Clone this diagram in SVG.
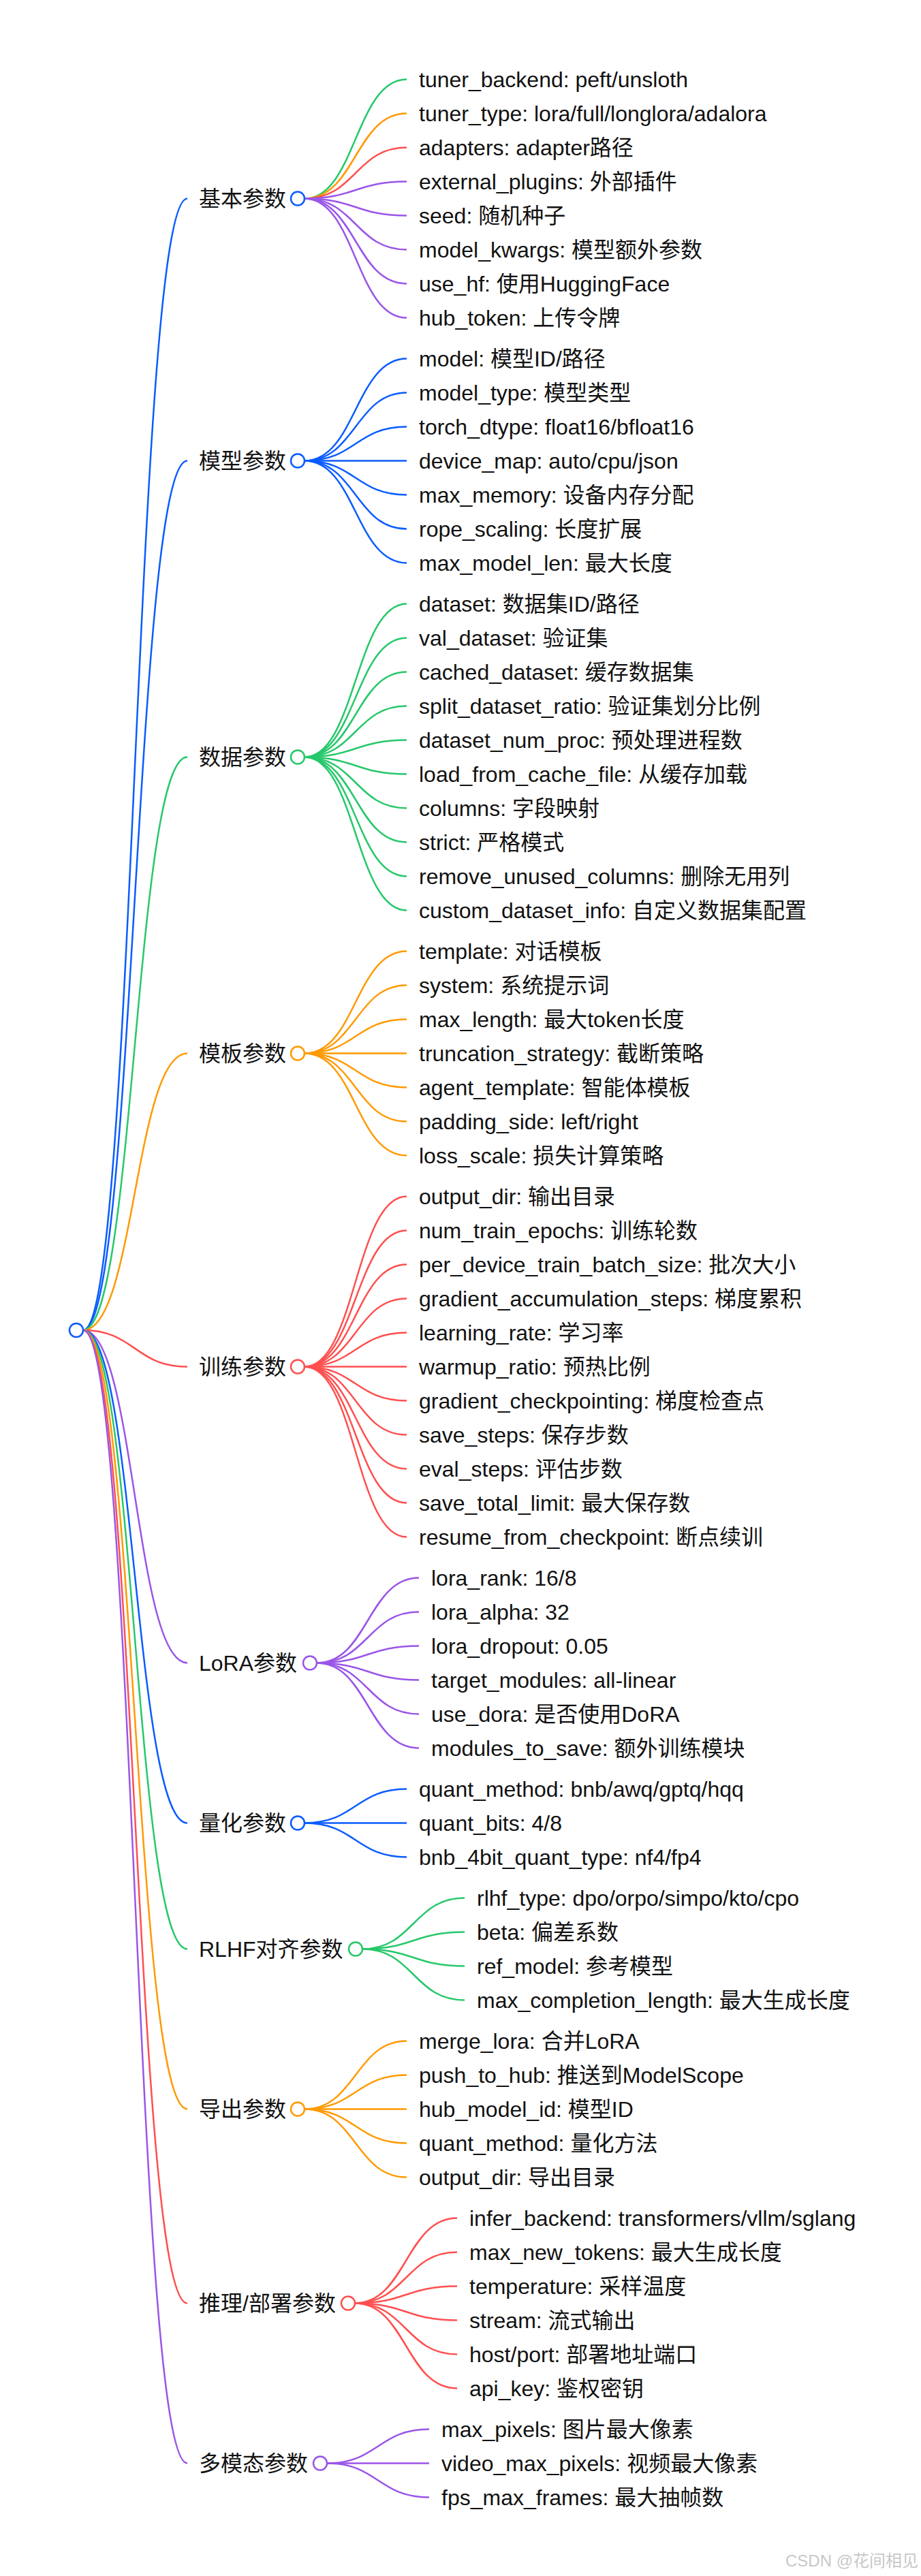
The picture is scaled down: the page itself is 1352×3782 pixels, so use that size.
<svg xmlns="http://www.w3.org/2000/svg" width="1352" height="3782" viewBox="0 0 1352 3782">
<style>
text{font-family:"Liberation Sans","Noto Sans CJK SC",sans-serif;font-size:32px;fill:#111}
path{fill:none;stroke-width:2.5}
circle{fill:#fff;stroke-width:2.5}
.b{stroke:#0a5cff}.g{stroke:#26c86a}.o{stroke:#ff9a00}.r{stroke:#ff4f4f}.p{stroke:#9a55e8}
.wm{font-size:24px;fill:#c8c8c8}
</style>
<rect width="1352" height="3782" fill="#fff"/>
<g id="connectors">
<path class="b" d="M122,1953 C198,1953 198,291.5 275,291.5"/>
<path class="b" d="M122,1953 C198,1953 198,676.5 275,676.5"/>
<path class="g" d="M122,1953 C198,1953 198,1111.5 275,1111.5"/>
<path class="o" d="M122,1953 C198,1953 198,1546.5 275,1546.5"/>
<path class="r" d="M122,1953 C198,1953 198,2006.5 275,2006.5"/>
<path class="p" d="M122,1953 C198,1953 198,2441.5 275,2441.5"/>
<path class="b" d="M122,1953 C198,1953 198,2676.5 275,2676.5"/>
<path class="g" d="M122,1953 C198,1953 198,2861.5 275,2861.5"/>
<path class="o" d="M122,1953 C198,1953 198,3096.5 275,3096.5"/>
<path class="r" d="M122,1953 C198,1953 198,3381.5 275,3381.5"/>
<path class="p" d="M122,1953 C198,1953 198,3616.5 275,3616.5"/>

<path class="g" d="M447,291.5 C522,291.5 522,116.5 597,116.5"/>
<path class="o" d="M447,291.5 C522,291.5 522,166.5 597,166.5"/>
<path class="r" d="M447,291.5 C522,291.5 522,216.5 597,216.5"/>
<path class="p" d="M447,291.5 C522,291.5 522,266.5 597,266.5"/>
<path class="p" d="M447,291.5 C522,291.5 522,316.5 597,316.5"/>
<path class="p" d="M447,291.5 C522,291.5 522,366.5 597,366.5"/>
<path class="p" d="M447,291.5 C522,291.5 522,416.5 597,416.5"/>
<path class="p" d="M447,291.5 C522,291.5 522,466.5 597,466.5"/>

<path class="b" d="M447,676.5 C522,676.5 522,526.5 597,526.5"/>
<path class="b" d="M447,676.5 C522,676.5 522,576.5 597,576.5"/>
<path class="b" d="M447,676.5 C522,676.5 522,626.5 597,626.5"/>
<path class="b" d="M447,676.5 C522,676.5 522,676.5 597,676.5"/>
<path class="b" d="M447,676.5 C522,676.5 522,726.5 597,726.5"/>
<path class="b" d="M447,676.5 C522,676.5 522,776.5 597,776.5"/>
<path class="b" d="M447,676.5 C522,676.5 522,826.5 597,826.5"/>

<path class="g" d="M447,1111.5 C522,1111.5 522,886.5 597,886.5"/>
<path class="g" d="M447,1111.5 C522,1111.5 522,936.5 597,936.5"/>
<path class="g" d="M447,1111.5 C522,1111.5 522,986.5 597,986.5"/>
<path class="g" d="M447,1111.5 C522,1111.5 522,1036.5 597,1036.5"/>
<path class="g" d="M447,1111.5 C522,1111.5 522,1086.5 597,1086.5"/>
<path class="g" d="M447,1111.5 C522,1111.5 522,1136.5 597,1136.5"/>
<path class="g" d="M447,1111.5 C522,1111.5 522,1186.5 597,1186.5"/>
<path class="g" d="M447,1111.5 C522,1111.5 522,1236.5 597,1236.5"/>
<path class="g" d="M447,1111.5 C522,1111.5 522,1286.5 597,1286.5"/>
<path class="g" d="M447,1111.5 C522,1111.5 522,1336.5 597,1336.5"/>

<path class="o" d="M447,1546.5 C522,1546.5 522,1396.5 597,1396.5"/>
<path class="o" d="M447,1546.5 C522,1546.5 522,1446.5 597,1446.5"/>
<path class="o" d="M447,1546.5 C522,1546.5 522,1496.5 597,1496.5"/>
<path class="o" d="M447,1546.5 C522,1546.5 522,1546.5 597,1546.5"/>
<path class="o" d="M447,1546.5 C522,1546.5 522,1596.5 597,1596.5"/>
<path class="o" d="M447,1546.5 C522,1546.5 522,1646.5 597,1646.5"/>
<path class="o" d="M447,1546.5 C522,1546.5 522,1696.5 597,1696.5"/>

<path class="r" d="M447,2006.5 C522,2006.5 522,1756.5 597,1756.5"/>
<path class="r" d="M447,2006.5 C522,2006.5 522,1806.5 597,1806.5"/>
<path class="r" d="M447,2006.5 C522,2006.5 522,1856.5 597,1856.5"/>
<path class="r" d="M447,2006.5 C522,2006.5 522,1906.5 597,1906.5"/>
<path class="r" d="M447,2006.5 C522,2006.5 522,1956.5 597,1956.5"/>
<path class="r" d="M447,2006.5 C522,2006.5 522,2006.5 597,2006.5"/>
<path class="r" d="M447,2006.5 C522,2006.5 522,2056.5 597,2056.5"/>
<path class="r" d="M447,2006.5 C522,2006.5 522,2106.5 597,2106.5"/>
<path class="r" d="M447,2006.5 C522,2006.5 522,2156.5 597,2156.5"/>
<path class="r" d="M447,2006.5 C522,2006.5 522,2206.5 597,2206.5"/>
<path class="r" d="M447,2006.5 C522,2006.5 522,2256.5 597,2256.5"/>

<path class="p" d="M465,2441.5 C540,2441.5 540,2316.5 615,2316.5"/>
<path class="p" d="M465,2441.5 C540,2441.5 540,2366.5 615,2366.5"/>
<path class="p" d="M465,2441.5 C540,2441.5 540,2416.5 615,2416.5"/>
<path class="p" d="M465,2441.5 C540,2441.5 540,2466.5 615,2466.5"/>
<path class="p" d="M465,2441.5 C540,2441.5 540,2516.5 615,2516.5"/>
<path class="p" d="M465,2441.5 C540,2441.5 540,2566.5 615,2566.5"/>

<path class="b" d="M447,2676.5 C522,2676.5 522,2626.5 597,2626.5"/>
<path class="b" d="M447,2676.5 C522,2676.5 522,2676.5 597,2676.5"/>
<path class="b" d="M447,2676.5 C522,2676.5 522,2726.5 597,2726.5"/>

<path class="g" d="M532,2861.5 C607,2861.5 607,2786.5 682,2786.5"/>
<path class="g" d="M532,2861.5 C607,2861.5 607,2836.5 682,2836.5"/>
<path class="g" d="M532,2861.5 C607,2861.5 607,2886.5 682,2886.5"/>
<path class="g" d="M532,2861.5 C607,2861.5 607,2936.5 682,2936.5"/>

<path class="o" d="M447,3096.5 C522,3096.5 522,2996.5 597,2996.5"/>
<path class="o" d="M447,3096.5 C522,3096.5 522,3046.5 597,3046.5"/>
<path class="o" d="M447,3096.5 C522,3096.5 522,3096.5 597,3096.5"/>
<path class="o" d="M447,3096.5 C522,3096.5 522,3146.5 597,3146.5"/>
<path class="o" d="M447,3096.5 C522,3096.5 522,3196.5 597,3196.5"/>

<path class="r" d="M521,3381.5 C596,3381.5 596,3256.5 671,3256.5"/>
<path class="r" d="M521,3381.5 C596,3381.5 596,3306.5 671,3306.5"/>
<path class="r" d="M521,3381.5 C596,3381.5 596,3356.5 671,3356.5"/>
<path class="r" d="M521,3381.5 C596,3381.5 596,3406.5 671,3406.5"/>
<path class="r" d="M521,3381.5 C596,3381.5 596,3456.5 671,3456.5"/>
<path class="r" d="M521,3381.5 C596,3381.5 596,3506.5 671,3506.5"/>

<path class="p" d="M480,3616.5 C555,3616.5 555,3566.5 630,3566.5"/>
<path class="p" d="M480,3616.5 C555,3616.5 555,3616.5 630,3616.5"/>
<path class="p" d="M480,3616.5 C555,3616.5 555,3666.5 630,3666.5"/>
</g>

<g id="root"><circle class="b" cx="112" cy="1953" r="10"/></g>

<g id="cat1"><text x="292" y="302.5">基本参数</text><circle class="b" cx="437" cy="291.5" r="10"/></g>
<g id="cat2"><text x="292" y="687.5">模型参数</text><circle class="b" cx="437" cy="676.5" r="10"/></g>
<g id="cat3"><text x="292" y="1122.5">数据参数</text><circle class="g" cx="437" cy="1111.5" r="10"/></g>
<g id="cat4"><text x="292" y="1557.5">模板参数</text><circle class="o" cx="437" cy="1546.5" r="10"/></g>
<g id="cat5"><text x="292" y="2017.5">训练参数</text><circle class="r" cx="437" cy="2006.5" r="10"/></g>
<g id="cat6"><text x="292" y="2452.5">LoRA参数</text><circle class="p" cx="455" cy="2441.5" r="10"/></g>
<g id="cat7"><text x="292" y="2687.5">量化参数</text><circle class="b" cx="437" cy="2676.5" r="10"/></g>
<g id="cat8"><text x="292" y="2872.5">RLHF对齐参数</text><circle class="g" cx="522" cy="2861.5" r="10"/></g>
<g id="cat9"><text x="292" y="3107.5">导出参数</text><circle class="o" cx="437" cy="3096.5" r="10"/></g>
<g id="cat10"><text x="292" y="3392.5">推理/部署参数</text><circle class="r" cx="511" cy="3381.5" r="10"/></g>
<g id="cat11"><text x="292" y="3627.5">多模态参数</text><circle class="p" cx="470" cy="3616.5" r="10"/></g>

<g id="leaves1">
<text x="615" y="127.5">tuner_backend: peft/unsloth</text>
<text x="615" y="177.5">tuner_type: lora/full/longlora/adalora</text>
<text x="615" y="227.5">adapters: adapter路径</text>
<text x="615" y="277.5">external_plugins: 外部插件</text>
<text x="615" y="327.5">seed: 随机种子</text>
<text x="615" y="377.5">model_kwargs: 模型额外参数</text>
<text x="615" y="427.5">use_hf: 使用HuggingFace</text>
<text x="615" y="477.5">hub_token: 上传令牌</text>
</g>
<g id="leaves2">
<text x="615" y="537.5">model: 模型ID/路径</text>
<text x="615" y="587.5">model_type: 模型类型</text>
<text x="615" y="637.5">torch_dtype: float16/bfloat16</text>
<text x="615" y="687.5">device_map: auto/cpu/json</text>
<text x="615" y="737.5">max_memory: 设备内存分配</text>
<text x="615" y="787.5">rope_scaling: 长度扩展</text>
<text x="615" y="837.5">max_model_len: 最大长度</text>
</g>
<g id="leaves3">
<text x="615" y="897.5">dataset: 数据集ID/路径</text>
<text x="615" y="947.5">val_dataset: 验证集</text>
<text x="615" y="997.5">cached_dataset: 缓存数据集</text>
<text x="615" y="1047.5">split_dataset_ratio: 验证集划分比例</text>
<text x="615" y="1097.5">dataset_num_proc: 预处理进程数</text>
<text x="615" y="1147.5">load_from_cache_file: 从缓存加载</text>
<text x="615" y="1197.5">columns: 字段映射</text>
<text x="615" y="1247.5">strict: 严格模式</text>
<text x="615" y="1297.5">remove_unused_columns: 删除无用列</text>
<text x="615" y="1347.5">custom_dataset_info: 自定义数据集配置</text>
</g>
<g id="leaves4">
<text x="615" y="1407.5">template: 对话模板</text>
<text x="615" y="1457.5">system: 系统提示词</text>
<text x="615" y="1507.5">max_length: 最大token长度</text>
<text x="615" y="1557.5">truncation_strategy: 截断策略</text>
<text x="615" y="1607.5">agent_template: 智能体模板</text>
<text x="615" y="1657.5">padding_side: left/right</text>
<text x="615" y="1707.5">loss_scale: 损失计算策略</text>
</g>
<g id="leaves5">
<text x="615" y="1767.5">output_dir: 输出目录</text>
<text x="615" y="1817.5">num_train_epochs: 训练轮数</text>
<text x="615" y="1867.5">per_device_train_batch_size: 批次大小</text>
<text x="615" y="1917.5">gradient_accumulation_steps: 梯度累积</text>
<text x="615" y="1967.5">learning_rate: 学习率</text>
<text x="615" y="2017.5">warmup_ratio: 预热比例</text>
<text x="615" y="2067.5">gradient_checkpointing: 梯度检查点</text>
<text x="615" y="2117.5">save_steps: 保存步数</text>
<text x="615" y="2167.5">eval_steps: 评估步数</text>
<text x="615" y="2217.5">save_total_limit: 最大保存数</text>
<text x="615" y="2267.5">resume_from_checkpoint: 断点续训</text>
</g>
<g id="leaves6">
<text x="633" y="2327.5">lora_rank: 16/8</text>
<text x="633" y="2377.5">lora_alpha: 32</text>
<text x="633" y="2427.5">lora_dropout: 0.05</text>
<text x="633" y="2477.5">target_modules: all-linear</text>
<text x="633" y="2527.5">use_dora: 是否使用DoRA</text>
<text x="633" y="2577.5">modules_to_save: 额外训练模块</text>
</g>
<g id="leaves7">
<text x="615" y="2637.5">quant_method: bnb/awq/gptq/hqq</text>
<text x="615" y="2687.5">quant_bits: 4/8</text>
<text x="615" y="2737.5">bnb_4bit_quant_type: nf4/fp4</text>
</g>
<g id="leaves8">
<text x="700" y="2797.5">rlhf_type: dpo/orpo/simpo/kto/cpo</text>
<text x="700" y="2847.5">beta: 偏差系数</text>
<text x="700" y="2897.5">ref_model: 参考模型</text>
<text x="700" y="2947.5">max_completion_length: 最大生成长度</text>
</g>
<g id="leaves9">
<text x="615" y="3007.5">merge_lora: 合并LoRA</text>
<text x="615" y="3057.5">push_to_hub: 推送到ModelScope</text>
<text x="615" y="3107.5">hub_model_id: 模型ID</text>
<text x="615" y="3157.5">quant_method: 量化方法</text>
<text x="615" y="3207.5">output_dir: 导出目录</text>
</g>
<g id="leaves10">
<text x="689" y="3267.5">infer_backend: transformers/vllm/sglang</text>
<text x="689" y="3317.5">max_new_tokens: 最大生成长度</text>
<text x="689" y="3367.5">temperature: 采样温度</text>
<text x="689" y="3417.5">stream: 流式输出</text>
<text x="689" y="3467.5">host/port: 部署地址端口</text>
<text x="689" y="3517.5">api_key: 鉴权密钥</text>
</g>
<g id="leaves11">
<text x="648" y="3577.5">max_pixels: 图片最大像素</text>
<text x="648" y="3627.5">video_max_pixels: 视频最大像素</text>
<text x="648" y="3677.5">fps_max_frames: 最大抽帧数</text>
</g>
<text class="wm" x="1348" y="3768" text-anchor="end">CSDN @花间相见</text>
</svg>
